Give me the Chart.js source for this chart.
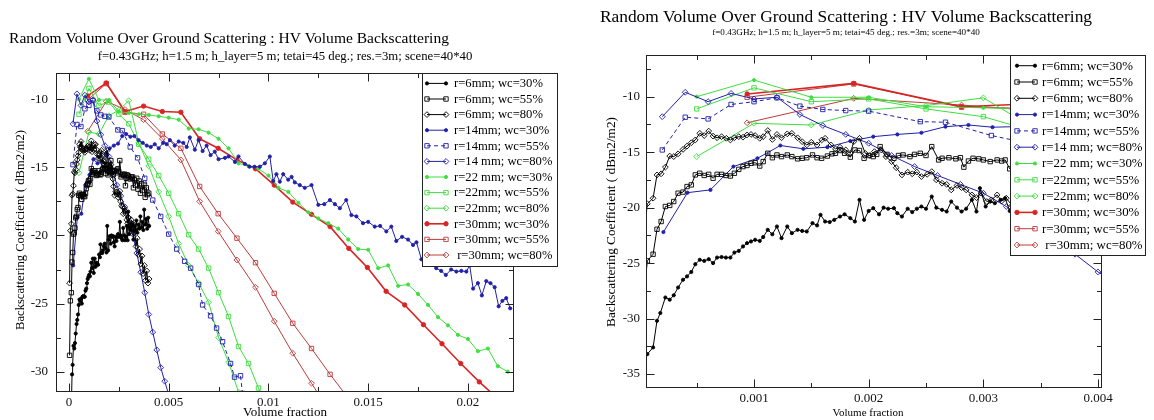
<!DOCTYPE html>
<html><head><meta charset="utf-8">
<script src="https://cdn.jsdelivr.net/npm/chart.js@4.4.1/dist/chart.umd.min.js"></script>
<style>
html,body{margin:0;padding:0;background:#fff;}
#wrap{position:relative;width:1154px;height:420px;overflow:hidden;background:#fff;}
.panel{position:absolute;top:0;width:577px;height:420px;}
</style></head><body>
<div id="wrap">
<div class="panel" style="left:0"><canvas id="c1" width="577" height="420"></canvas></div>
<div class="panel" style="left:577px"><canvas id="c2" width="577" height="420"></canvas></div>
</div>
<script>
// ---------- text ----------
const TITLE = "Random Volume Over Ground Scattering : HV Volume Backscattering";
const SUBTITLE = "f=0.43GHz; h=1.5 m; h_layer=5 m; tetai=45 deg.; res.=3m; scene=40*40";
const X_TITLE = "Volume fraction";
const Y_TITLE = "Backscattering Coefficient ( dBm2/m2)";
const LABELS = ["r=6mm; wc=30%","r=6mm; wc=55%","r=6mm; wc=80%","r=14mm; wc=30%","r=14mm; wc=55%","r=14 mm; wc=80%","r=22 mm; wc=30%","r=22mm; wc=55%","r=22mm; wc=80%","r=30mm; wc=30%","r=30mm; wc=55%"," r=30mm; wc=80%"];

// ---------- tick values ----------
const leftXTicks = [0, 0.005, 0.01, 0.015, 0.02];
const leftXMinor = [0.0025, 0.0075, 0.0125, 0.0175];
const leftYTicks = [-30, -25, -20, -15, -10];
const leftYMinor = [-27.5, -22.5, -17.5, -12.5];
const rightXTicks = [0.001, 0.002, 0.003, 0.004];
const rightXMinor = [0.0005, 0.0015, 0.0025, 0.0035];
const rightYTicks = [-35, -30, -25, -20, -15, -10];
const rightYMinor = [-32.5, -27.5, -22.5, -17.5, -12.5, -7.5];

// ---------- series (volume fraction, dB) ----------
const r6_wc30 = [[0.00003,-34.5],[0.00007,-33.2],[0.00012,-32.6],[0.000154,-30.2],[0.000183,-29.5],[0.000227,-28.1],[0.000265,-28.3],[0.0003,-27.9],[0.000338,-27.2],[0.000381,-26.5],[0.000416,-26.2],[0.000453,-25.8],[0.000488,-25.1],[0.000527,-24.7],[0.000566,-24.8],[0.000605,-24.65],[0.000643,-25.0],[0.000678,-24.5],[0.000717,-24.45],[0.000755,-24.5],[0.000794,-24.5],[0.000829,-24.05],[0.000867,-23.9],[0.000904,-23.5],[0.000939,-23.2],[0.000974,-23.05],[0.00101,-22.9],[0.00105,-23.0],[0.00108,-22.65],[0.00112,-22.0],[0.00116,-22.4],[0.0012,-21.7],[0.00124,-22.75],[0.00129,-21.7],[0.00133,-22.3],[0.00138,-22.0],[0.00142,-22.1],[0.00146,-22.15],[0.00151,-21.4],[0.00155,-21.6],[0.00158,-20.65],[0.00162,-21.25],[0.00166,-21.3],[0.0017,-21.1],[0.00175,-20.8],[0.00179,-20.6],[0.00184,-20.95],[0.00188,-21.25],[0.00192,-19.3],[0.00196,-21.1],[0.002,-20.3],[0.00204,-20.05],[0.00209,-20.6],[0.00213,-20.0],[0.00217,-20.1],[0.00222,-20.05],[0.00225,-20.5],[0.00229,-20.8],[0.00234,-20.1],[0.00238,-20.4],[0.00242,-20.1],[0.00246,-19.9],[0.0025,-20.1],[0.00255,-19.0],[0.00259,-20.0],[0.00264,-20.2],[0.00268,-20.35],[0.00272,-19.45],[0.00277,-20.0],[0.00281,-20.35],[0.00285,-20.1],[0.0029,-19.3],[0.00294,-20.35],[0.00297,-18.25],[0.00302,-19.9],[0.00306,-19.45],[0.0031,-19.6],[0.00315,-19.3],[0.00319,-19.15],[0.00323,-20.3],[0.00328,-19.3],[0.00333,-19.6],[0.00338,-18.9],[0.00343,-19.8],[0.00348,-19.2],[0.00353,-19.5],[0.00358,-18.6],[0.00363,-19.4],[0.00368,-19.0],[0.00373,-19.6],[0.00377,-18.1],[0.00382,-19.2],[0.00387,-18.8],[0.00392,-19.5],[0.00397,-18.7],[0.00402,-19.3]];
const r6_wc55 = [[0.00003,-28.8],[0.00007,-24.8],[0.00012,-24.2],[0.000154,-21.95],[0.00019,-21.25],[0.000227,-19.9],[0.000265,-19.8],[0.0003,-19.45],[0.000338,-18.7],[0.000381,-18.6],[0.000416,-18.1],[0.000453,-17.95],[0.000488,-17.05],[0.000527,-16.9],[0.000566,-17.1],[0.000605,-17.0],[0.000643,-17.35],[0.000678,-17.0],[0.000717,-17.0],[0.000755,-17.1],[0.000794,-17.15],[0.000829,-16.9],[0.000867,-16.55],[0.000904,-16.3],[0.000939,-16.2],[0.000974,-16.0],[0.00101,-15.95],[0.00105,-16.25],[0.00108,-15.85],[0.00112,-15.1],[0.00116,-15.5],[0.0012,-15.25],[0.00124,-15.4],[0.00129,-15.25],[0.00133,-15.4],[0.00138,-15.6],[0.00142,-15.55],[0.00146,-15.5],[0.00151,-15.25],[0.00155,-15.5],[0.00159,-15.55],[0.00164,-15.35],[0.00168,-15.15],[0.00171,-15.1],[0.00175,-14.85],[0.00179,-15.1],[0.00184,-15.45],[0.00188,-14.8],[0.00192,-14.85],[0.00196,-15.55],[0.002,-15.3],[0.00204,-15.4],[0.00207,-15.2],[0.0021,-14.5],[0.00216,-15.2],[0.00222,-15.55],[0.00226,-15.3],[0.0023,-15.25],[0.00236,-15.4],[0.0024,-15.2],[0.00245,-15.1],[0.0025,-15.3],[0.00255,-14.5],[0.00261,-15.7],[0.00264,-15.55],[0.0027,-15.5],[0.00276,-15.6],[0.0028,-15.5],[0.00283,-16.35],[0.00287,-15.8],[0.00291,-15.55],[0.00296,-15.6],[0.003,-15.7],[0.00306,-15.85],[0.00312,-15.7],[0.00316,-15.8],[0.00319,-15.7],[0.00323,-16.5],[0.00328,-15.9],[0.00334,-16.3],[0.0034,-15.8],[0.00346,-16.6],[0.00352,-16.0],[0.00358,-16.9],[0.00364,-16.2],[0.0037,-16.7],[0.00376,-16.3],[0.00382,-17.2],[0.00388,-16.5],[0.00394,-17.0],[0.004,-16.9]];
const r6_wc80 = [[0.00003,-23.5],[0.00007,-19.65],[0.00012,-19.15],[0.000154,-17.05],[0.00019,-16.95],[0.000227,-16.35],[0.000265,-15.35],[0.0003,-15.4],[0.000338,-15.15],[0.000381,-14.75],[0.000416,-14.45],[0.000453,-14.15],[0.000488,-13.9],[0.000527,-13.3],[0.000566,-13.5],[0.000605,-13.1],[0.000643,-13.55],[0.000678,-13.7],[0.000717,-13.6],[0.000759,-13.75],[0.000794,-13.9],[0.000829,-13.7],[0.000867,-13.6],[0.000904,-13.65],[0.000939,-13.45],[0.000974,-13.4],[0.00101,-13.5],[0.00105,-13.75],[0.00108,-13.6],[0.00112,-13.05],[0.00116,-13.85],[0.0012,-13.4],[0.00124,-13.7],[0.00129,-13.35],[0.00133,-13.3],[0.00138,-13.7],[0.00142,-14.05],[0.00146,-14.35],[0.0015,-14.1],[0.00155,-14.35],[0.00159,-13.9],[0.00162,-13.75],[0.00167,-14.35],[0.00171,-14.7],[0.00175,-14.55],[0.0018,-14.8],[0.00184,-15.1],[0.00187,-14.05],[0.00192,-13.75],[0.00197,-15.1],[0.00201,-15.3],[0.00205,-14.95],[0.00211,-14.8],[0.00215,-15.4],[0.0022,-15.85],[0.00224,-16.4],[0.00229,-17.05],[0.00234,-16.8],[0.00238,-16.95],[0.00242,-16.8],[0.00246,-17.2],[0.00251,-17.0],[0.00255,-16.75],[0.00259,-17.5],[0.00264,-17.8],[0.00268,-17.9],[0.00272,-18.4],[0.00277,-18.0],[0.00281,-18.2],[0.00285,-18.4],[0.0029,-18.85],[0.00294,-19.1],[0.00298,-18.7],[0.00303,-19.45],[0.00307,-19.3],[0.00312,-18.85],[0.00316,-19.4],[0.0032,-19.15],[0.00325,-19.8],[0.0033,-19.6],[0.00336,-20.8],[0.00342,-20.2],[0.00348,-21.4],[0.00354,-21.0],[0.0036,-22.1],[0.00366,-21.5],[0.00372,-22.8],[0.00378,-22.2],[0.00384,-23.3],[0.0039,-22.6],[0.00396,-23.5],[0.00402,-23.2]];
const r14_wc30 = [[0.00021,-22.2],[0.00042,-18.65],[0.00062,-18.4],[0.00082,-16.3],[0.00103,-15.55],[0.00123,-14.4],[0.00143,-14.7],[0.00164,-14.55],[0.00184,-14.0],[0.00204,-13.6],[0.00225,-13.4],[0.00246,-13.25],[0.00267,-12.7],[0.00287,-12.55],[0.00308,-12.75],[0.00328,-12.7],[0.00349,-13.0],[0.0037,-13.2],[0.0039,-13.4],[0.0041,-13.5],[0.0043,-13.3],[0.0045,-13.6],[0.00472,-13.2],[0.0049,-13.3],[0.00506,-13.0],[0.0053,-13.4],[0.0055,-13.1],[0.00573,-13.2],[0.0059,-13.5],[0.00606,-12.8],[0.00631,-13.7],[0.0065,-13.0],[0.0067,-13.8],[0.0069,-13.4],[0.0071,-14.1],[0.00731,-13.85],[0.0075,-14.4],[0.00782,-14.3],[0.008,-14.2],[0.00832,-14.6],[0.0085,-14.2],[0.00882,-14.75],[0.00905,-14.95],[0.0093,-14.95],[0.00957,-14.95],[0.00982,-14.7],[0.01007,-14.2],[0.01024,-16.0],[0.0104,-15.5],[0.01057,-16.05],[0.01074,-15.5],[0.01099,-15.9],[0.01116,-15.7],[0.01132,-16.1],[0.01157,-16.3],[0.01182,-16.5],[0.01216,-16.3],[0.0125,-17.75],[0.0128,-17.7],[0.01308,-17.4],[0.01333,-17.7],[0.01358,-18.0],[0.0139,-17.4],[0.01416,-18.5],[0.01441,-18.6],[0.01474,-19.1],[0.015,-19.0],[0.01533,-19.35],[0.0156,-19.3],[0.01591,-19.7],[0.01616,-19.35],[0.01641,-20.4],[0.0167,-20.1],[0.017,-20.3],[0.01725,-20.7],[0.01742,-20.5],[0.01767,-21.75],[0.018,-21.55],[0.01841,-22.4],[0.01866,-22.6],[0.01889,-22.9],[0.01916,-22.5],[0.01942,-22.65],[0.01967,-22.6],[0.01992,-22.65],[0.02009,-22.2],[0.02026,-23.9],[0.0205,-23.5],[0.0207,-24.4],[0.02092,-23.35],[0.02113,-23.5],[0.02134,-23.8],[0.02154,-25.2],[0.02173,-24.8],[0.02192,-24.6],[0.02212,-25.35]];
const r14_wc55 = [[0.0002,-14.8],[0.0004,-11.85],[0.0006,-12.0],[0.0008,-10.7],[0.001,-10.45],[0.0012,-10.1],[0.0014,-10.85],[0.0016,-11.15],[0.0018,-11.25],[0.002,-11.3],[0.00245,-12.25],[0.00267,-12.3],[0.00307,-13.5],[0.00344,-14.3],[0.0038,-15.8],[0.0042,-17.4],[0.0046,-18.6],[0.005,-19.9],[0.0054,-21.0],[0.0058,-21.9],[0.0061,-22.4],[0.0065,-23.6],[0.0067,-25.1],[0.0071,-25.9],[0.0074,-26.8],[0.0077,-27.8],[0.0081,-29.4],[0.0083,-30.4],[0.0086,-30.3],[0.0087,-31.6]];
const r14_wc80 = [[0.0002,-11.8],[0.0004,-9.6],[0.0006,-10.45],[0.0008,-9.7],[0.001,-10.2],[0.0012,-10.05],[0.0014,-11.6],[0.0016,-12.6],[0.0018,-13.4],[0.002,-14.2],[0.0022,-15.3],[0.0024,-16.3],[0.0026,-17.1],[0.0028,-17.9],[0.003,-18.7],[0.0032,-19.9],[0.0034,-21.3],[0.0036,-22.7],[0.0038,-24.2],[0.004,-25.8],[0.0042,-27.1],[0.0044,-28.4],[0.0046,-29.7],[0.0048,-30.7],[0.005,-31.7]];
const r22_wc30 = [[0.0005,-10.0],[0.001,-8.5],[0.0015,-10.05],[0.002,-10.05],[0.0025,-10.9],[0.003,-11.0],[0.0035,-11.1],[0.004,-11.15],[0.0045,-11.25],[0.005,-11.35],[0.0055,-11.5],[0.006,-12.15],[0.0065,-12.2],[0.007,-12.45],[0.0075,-12.9],[0.008,-13.6],[0.0085,-14.7],[0.009,-14.9],[0.0095,-15.1],[0.01,-15.6],[0.0105,-16.5],[0.011,-16.8],[0.0115,-17.6],[0.012,-18.3],[0.0125,-18.75],[0.013,-19.1],[0.0135,-19.5],[0.014,-20.3],[0.0145,-21.0],[0.015,-21.05],[0.0155,-22.4],[0.016,-22.2],[0.0165,-23.7],[0.017,-23.6],[0.0175,-24.3],[0.018,-25.1],[0.0185,-26.0],[0.019,-26.6],[0.0195,-27.3],[0.02,-27.6],[0.0205,-28.5],[0.021,-28.3],[0.0215,-29.6],[0.022,-30.0]];
const r22_wc55 = [[0.0005,-11.1],[0.001,-9.2],[0.0015,-10.45],[0.002,-10.2],[0.0025,-11.1],[0.003,-11.8],[0.0035,-13.3],[0.004,-14.4],[0.0045,-15.6],[0.005,-16.9],[0.0055,-18.4],[0.006,-19.95],[0.0065,-21.0],[0.007,-22.4],[0.0075,-24.2],[0.008,-25.95],[0.0085,-28.15],[0.009,-29.4],[0.0095,-31.2],[0.01,-33.0]];
const r22_wc80 = [[0.0005,-15.4],[0.001,-12.4],[0.0015,-12.55],[0.002,-11.2],[0.0025,-10.8],[0.003,-10.1],[0.0035,-13.2],[0.004,-14.9],[0.0045,-16.8],[0.005,-18.6],[0.0055,-20.6],[0.006,-22.2],[0.0065,-23.5],[0.007,-24.9],[0.0075,-27.5],[0.008,-29.3],[0.0085,-31.5]];
const r30_wc30 = [[0.00094,-9.75],[0.00187,-8.8],[0.00281,-10.9],[0.00374,-10.5],[0.00468,-10.9],[0.00561,-10.95],[0.00655,-12.9],[0.00748,-13.6],[0.00842,-14.45],[0.00935,-15.1],[0.01029,-16.3],[0.01122,-17.55],[0.01216,-18.45],[0.01309,-19.35],[0.01403,-20.95],[0.01496,-22.35],[0.0159,-24.1],[0.01683,-25.1],[0.01777,-26.55],[0.0187,-27.95],[0.01964,-29.4],[0.02057,-30.75],[0.02151,-32.0]];
const r30_wc55 = [[0.00094,-10.05],[0.00187,-8.85],[0.00281,-10.95],[0.00374,-11.1],[0.00468,-12.55],[0.00561,-13.6],[0.00655,-16.4],[0.00748,-18.4],[0.00842,-20.2],[0.00935,-22.0],[0.01029,-24.25],[0.01122,-26.45],[0.01216,-28.3],[0.01309,-30.2],[0.01403,-32.0]];
const r30_wc80 = [[0.00094,-12.35],[0.00187,-10.15],[0.00281,-10.75],[0.00374,-11.5],[0.00468,-12.9],[0.00561,-14.45],[0.00655,-17.5],[0.00748,-19.7],[0.00842,-21.8],[0.00935,-23.8],[0.01029,-26.3],[0.01122,-28.65],[0.01216,-30.85],[0.01309,-33.0]];

const SERIES = [r6_wc30, r6_wc55, r6_wc80, r14_wc30, r14_wc55, r14_wc80, r22_wc30, r22_wc55, r22_wc80, r30_wc30, r30_wc55, r30_wc80];

// ---------- styles ----------
const BLACK = '#000000', BLUE = '#2020aa', GREEN = '#3ede3e', RED = '#d82424', RED2 = '#c03a3a';
const STYLE = [
  {c:BLACK, p:'circle', f:true}, {c:BLACK, p:'rect', f:false}, {c:BLACK, p:'rectRot', f:false},
  {c:BLUE, p:'circle', f:true}, {c:BLUE, p:'rect', f:false, dash:[4,3]}, {c:BLUE, p:'rectRot', f:false},
  {c:GREEN, p:'circle', f:true}, {c:GREEN, p:'rect', f:false}, {c:GREEN, p:'rectRot', f:false},
  {c:RED, p:'circle', f:true, w:1.6, r:2.2}, {c:RED2, p:'rect', f:false}, {c:RED2, p:'rectRot', f:false}
];
const RADIUS = {circle:1.6, rect:3.1, rectRot:2.9};
const SERIF = "'Liberation Serif','Times New Roman',serif";

function makeDatasets(){
  return SERIES.map((s,i)=>{
    const st = STYLE[i];
    return {
      label: LABELS[i],
      data: s.map(p=>({x:p[0], y:p[1]})),
      borderColor: st.c, backgroundColor: st.c,
      borderWidth: st.w || 1, borderDash: st.dash || [],
      pointStyle: st.p, pointRadius: st.r || RADIUS[st.p], pointBorderWidth: 0.9,
      pointBackgroundColor: st.f ? st.c : 'rgba(255,255,255,0)',
      pointBorderColor: st.c, tension: 0, fill: false, spanGaps: true
    };
  });
}

function fitSize(ctx, text, width){
  ctx.font = '100px ' + SERIF;
  return 100 * width / ctx.measureText(text).width;
}
function drawText(ctx, text, cx, baseline, width){
  const sz = fitSize(ctx, text, width);
  ctx.font = sz.toFixed(2) + 'px ' + SERIF;
  ctx.fillStyle = '#000'; ctx.textAlign = 'center'; ctx.textBaseline = 'alphabetic';
  ctx.fillText(text, cx, baseline);
}
function drawMarker(ctx, p, x, y, r, color, fill){
  ctx.save(); ctx.setLineDash([]); ctx.strokeStyle = color; ctx.fillStyle = color; ctx.lineWidth = 0.9;
  ctx.beginPath();
  if (p === 'circle') ctx.arc(x, y, r, 0, Math.PI*2);
  else if (p === 'rect') { const h = r*Math.SQRT1_2; ctx.rect(x-h, y-h, 2*h, 2*h); }
  else { ctx.moveTo(x, y-r); ctx.lineTo(x+r, y); ctx.lineTo(x, y+r); ctx.lineTo(x-r, y); ctx.closePath(); }
  if (fill) ctx.fill();
  ctx.stroke(); ctx.restore();
}

const xmPlugin = {
  id: 'xm',
  afterDatasetsDraw(chart, args, o){
    const ctx = chart.ctx, a = chart.chartArea, xs = chart.scales.x, ys = chart.scales.y;
    ctx.save();
    ctx.strokeStyle = '#222'; ctx.lineWidth = 1; ctx.setLineDash([]);
    const L = Math.round(a.left)+0.5, R = Math.round(a.right)+0.5, T = Math.round(a.top)+0.5, B = Math.round(a.bottom)+0.5;
    ctx.strokeRect(L, T, R-L, B-T);
    const tick = (vals, len, axis) => {
      vals.forEach(v=>{
        if (axis === 'x') {
          const px = Math.round(xs.getPixelForValue(v))+0.5;
          if (px < L || px > R) return;
          ctx.beginPath(); ctx.moveTo(px, B); ctx.lineTo(px, B-len); ctx.moveTo(px, T); ctx.lineTo(px, T+len); ctx.stroke();
        } else {
          const py = Math.round(ys.getPixelForValue(v))+0.5;
          if (py < T || py > B) return;
          ctx.beginPath(); ctx.moveTo(L, py); ctx.lineTo(L+len, py); ctx.moveTo(R, py); ctx.lineTo(R-len, py); ctx.stroke();
        }
      });
    };
    tick(o.xMajor, 8, 'x'); tick(o.xMinor, 4.5, 'x');
    tick(o.yMajor, 8, 'y'); tick(o.yMinor, 4.5, 'y');
    ctx.restore();
  },
  afterDraw(chart, args, o){
    const ctx = chart.ctx;
    ctx.save();
    drawText(ctx, TITLE, o.title[0], o.title[1], o.title[2]);
    drawText(ctx, SUBTITLE, o.sub[0], o.sub[1], o.sub[2]);
    drawText(ctx, X_TITLE, o.xl[0], o.xl[1], o.xl[2]);
    ctx.save();
    ctx.translate(o.yl[0], o.yl[1]); ctx.rotate(-Math.PI/2);
    drawText(ctx, Y_TITLE, 0, 0, o.yl[2]);
    ctx.restore();
    const lg = o.legend;
    ctx.fillStyle = '#fff'; ctx.fillRect(lg.x, lg.y, lg.w, lg.h);
    ctx.strokeStyle = '#222'; ctx.lineWidth = 1; ctx.setLineDash([]);
    ctx.strokeRect(lg.x+0.5, lg.y+0.5, lg.w, lg.h);
    const fs = fitSize(ctx, LABELS[0], lg.textW);
    chart.data.datasets.forEach((ds, i)=>{
      const y = lg.y0 + i*lg.step;
      const st = STYLE[i];
      ctx.save();
      ctx.strokeStyle = st.c; ctx.lineWidth = st.w || 1; ctx.setLineDash(st.dash || []);
      ctx.beginPath(); ctx.moveTo(lg.l1, y); ctx.lineTo(lg.l2, y); ctx.stroke();
      ctx.restore();
      drawMarker(ctx, st.p, lg.l1, y, st.r || RADIUS[st.p], st.c, st.f);
      drawMarker(ctx, st.p, lg.l2, y, st.r || RADIUS[st.p], st.c, st.f);
      ctx.font = fs.toFixed(2) + 'px ' + SERIF;
      ctx.fillStyle = '#000'; ctx.textAlign = 'left'; ctx.textBaseline = 'middle';
      ctx.fillText(ds.label, lg.tx, y + 0.5);
    });
    ctx.restore();
  }
};

function fmt(v){ return String(Number(Number(v).toPrecision(6))); }

function makeChart(id, cfg){
  const tickFont = {family: SERIF, size: 13};
  return new Chart(document.getElementById(id), {
    type: 'line',
    data: { datasets: makeDatasets() },
    options: {
      responsive: false, animation: false, devicePixelRatio: 1, events: [],
      layout: { padding: { top: cfg.area.top, right: 577 - cfg.area.right, bottom: 0, left: 0 } },
      plugins: {
        legend: {display: false}, tooltip: {enabled: false}, title: {display: false},
        xm: cfg.xm
      },
      scales: {
        x: {
          type: 'linear', min: cfg.xmin, max: cfg.xmax,
          afterBuildTicks: s => { s.ticks = cfg.xTicks.map(v => ({value: v})); },
          afterFit: s => { s.height = 420 - cfg.area.bottom; },
          grid: {display: false, drawTicks: false}, border: {display: false},
          ticks: {autoSkip: false, maxRotation: 0, font: tickFont, color: '#111', padding: cfg.xPad, callback: v => fmt(v)}
        },
        y: {
          type: 'linear', min: cfg.ymin, max: cfg.ymax,
          afterBuildTicks: s => { s.ticks = cfg.yTicks.map(v => ({value: v})); },
          afterFit: s => { s.width = cfg.area.left; },
          grid: {display: false, drawTicks: false}, border: {display: false},
          ticks: {autoSkip: false, font: tickFont, color: '#111', padding: cfg.yPad, callback: v => fmt(v)}
        }
      }
    },
    plugins: [xmPlugin]
  });
}

// Left panel: full range
makeChart('c1', {
  area: {left: 56, right: 513, top: 73, bottom: 391},
  xmin: -0.00065, xmax: 0.02226, ymin: -31.42, ymax: -8.07,
  xTicks: leftXTicks, yTicks: leftYTicks, xPad: 4, yPad: 8,
  xm: {
    xMajor: leftXTicks, xMinor: leftXMinor, yMajor: leftYTicks, yMinor: leftYMinor,
    title: [229, 43, 440], sub: [285, 60, 375], xl: [285, 416, 84], yl: [24, 230, 200],
    legend: {x: 422, y: 73, w: 135, h: 193, y0: 83.4, step: 15.6, l1: 427, l2: 446, tx: 454, textW: 89}
  }
});

// Right panel: zoom on small volume fractions
makeChart('c2', {
  area: {left: 69, right: 524, top: 55, bottom: 387},
  xmin: 0.0000581, xmax: 0.004026, ymin: -36.17, ymax: -6.24,
  xTicks: rightXTicks, yTicks: rightYTicks, xPad: 4, yPad: 6,
  xm: {
    xMajor: rightXTicks, xMinor: rightXMinor, yMajor: rightYTicks, yMinor: rightYMinor,
    title: [269, 22, 492], sub: [269, 35, 268], xl: [291, 416, 71], yl: [37.5, 222, 210],
    legend: {x: 433, y: 55, w: 135, h: 200, y0: 65.7, step: 16.3, l1: 440, l2: 458, tx: 465, textW: 91}
  }
});
</script>
</body></html>
